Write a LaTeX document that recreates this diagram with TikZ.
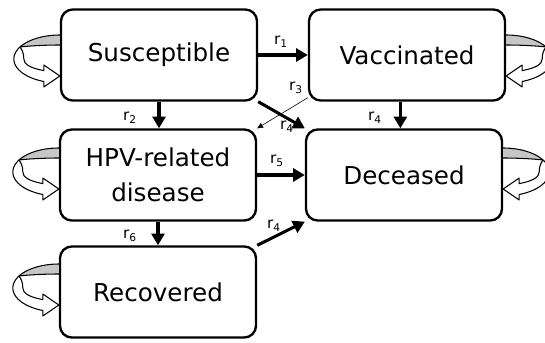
\documentclass[tikz,border=0pt]{standalone}
\usepackage{fontspec}
\setmainfont{DejaVu Sans}
\usetikzlibrary{arrows.meta}

\tikzset{
  state/.style={draw, line width=2pt, rounded corners=10pt, minimum width=5.88cm, minimum height=2.73cm,
    align=center, inner sep=0pt, font=\fontsize{21}{30}\selectfont},
  flow/.style={-{Triangle[length=10pt,width=11pt]}, line width=2.6pt},
  thinflow/.style={-{Triangle[length=5pt,width=4.5pt]}, line width=0.5pt},
  rate/.style={inner sep=1pt, font=\fontsize{13}{15}\selectfont},
  selfloop/.pic={
    % inner face (grey crescent)
    \draw[line width=0.9pt, fill=gray!45, line join=round]
      plot[domain=90:150, samples=15, smooth] ({46*cos(\x)},{4-24*sin(\x)})
      .. controls (-32,-9) and (-16,-10) .. (0,-10);
    % outer face with head
    \draw[line width=0.9pt, fill=white, line join=round]
      plot[domain=150:249.6, samples=20, smooth] ({46*cos(\x)},{4-24*sin(\x)})
      -- (-16,32) -- (0,21) -- (-16,10) -- (-16,15.6)
      .. controls (-30,13) and (-36,9) .. (-36,4)
      .. controls (-36,-2) and (-38,-6) .. (-40,-7.9) -- cycle;
  }
}

\begin{document}
\begin{tikzpicture}[x=0.03cm, y=-0.03cm]
\useasboundingbox (0,0) rectangle (545,342);

% compartments
\node[state] (sus) at (159,55) {Susceptible};
\node[state] (vac) at (407,55) {Vaccinated};
\node[state] (hpv) at (158,175) {HPV-related\\disease};
\node[state] (dec) at (404,175) {Deceased};
\node[state] (rec) at (158,292) {Recovered};

% staying in the same state
\pic at (sus.west) {selfloop};
\pic[xscale=-1] at (vac.east) {selfloop};
\pic[shift={(0,-7)}] at (hpv.west) {selfloop};
\pic[xscale=-1, shift={(0,-7)}] at (dec.east) {selfloop};
\pic[shift={(0,-8)}] at (rec.west) {selfloop};

% transitions
\draw[flow] (sus) -- (vac);
\draw[flow] (sus.south) -- (sus.south |- hpv.north);
\draw[flow] (sus.south east) -- (dec.north west);
\draw[thinflow] ([yshift=0.12cm]vac.south west) -- (hpv.north east);
\draw[flow] ([xshift=-0.2cm]vac.south) -- ([xshift=-0.2cm]vac.south |- dec.north);
\draw[flow] (hpv) -- (dec);
\draw[flow] (hpv) -- (rec);
\draw[flow] (rec.north east) -- (dec.south west);

% rates
\node[rate] (l1) at (281,42) {r\textsubscript{1}};
\node[rate] (l2) at (130,118) {r\textsubscript{2}};
\node[rate] (l3) at (296,88) {r\textsubscript{3}};
\node[rate] (l4a) at (287,127) {r\textsubscript{4}};
\node[rate] (l4b) at (375,118) {r\textsubscript{4}};
\node[rate] (l5) at (277,161) {r\textsubscript{5}};
\node[rate] (l6) at (130,236) {r\textsubscript{6}};
\node[rate] (l4c) at (274,226) {r\textsubscript{4}};
\end{tikzpicture}
\end{document}
